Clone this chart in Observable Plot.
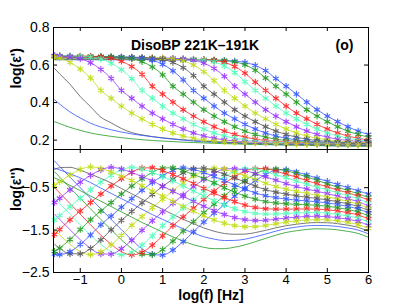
<!DOCTYPE html>
<html><head><meta charset="utf-8">
<script src="https://cdn.jsdelivr.net/npm/d3@7"></script>
<script src="https://cdn.jsdelivr.net/npm/@observablehq/plot@0.6"></script>
<style>
body{margin:0;background:#fff;}
#chart{position:relative;width:407px;height:306px;}
#chart svg{position:absolute;left:0;overflow:visible;background:transparent;}
</style></head><body><div id="chart"></div>
<script>
// log10 frequency grid (Hz)
const logf = [-1.625,-1.5,-1.25,-1,-0.75,-0.5,-0.25,0,0.25,0.5,0.75,1,1.25,1.5,1.75,2,2.25,2.5,2.75,3,3.25,3.5,3.75,4,4.25,4.5,4.75,5,5.25,5.5,5.75,6];
const temps = [221,219,217,215,213,211,209,207,205,203,201,199,197,195,193,191];
// first frequency shown with markers (null = line only)
const markFrom = [0.75,0.5,0.25,0,-0.5,-0.75,-1.25,-1.625,-1.625,-1.625,-1.625,-1.625,-1.625,null,null,null];

// log(eps')
const e1_221 = [0.628,0.628,0.628,0.628,0.628,0.628,0.628,0.628,0.628,0.628,0.628,0.627,0.627,0.627,0.626,0.626,0.626,0.624,0.621,0.614,0.598,0.570,0.528,0.487,0.445,0.402,0.362,0.328,0.298,0.271,0.248,0.230];
const e1_219 = [0.631,0.631,0.631,0.631,0.631,0.631,0.631,0.631,0.631,0.631,0.630,0.630,0.630,0.629,0.629,0.629,0.627,0.624,0.617,0.601,0.573,0.531,0.487,0.445,0.402,0.362,0.328,0.298,0.271,0.248,0.230,0.216];
const e1_217 = [0.634,0.634,0.634,0.634,0.634,0.634,0.634,0.634,0.634,0.633,0.633,0.633,0.632,0.632,0.631,0.629,0.624,0.614,0.592,0.557,0.509,0.465,0.423,0.381,0.344,0.313,0.284,0.259,0.238,0.222,0.210,0.201];
const e1_215 = [0.637,0.637,0.637,0.637,0.637,0.637,0.637,0.637,0.636,0.636,0.636,0.635,0.635,0.634,0.632,0.627,0.617,0.595,0.560,0.512,0.465,0.423,0.381,0.344,0.313,0.284,0.259,0.238,0.222,0.210,0.201,0.195];
const e1_213 = [0.640,0.640,0.640,0.640,0.640,0.640,0.639,0.639,0.639,0.638,0.638,0.638,0.636,0.633,0.626,0.610,0.582,0.540,0.487,0.445,0.402,0.362,0.328,0.298,0.271,0.248,0.230,0.216,0.205,0.198,0.193,0.189];
const e1_211 = [0.642,0.642,0.642,0.642,0.642,0.641,0.641,0.641,0.640,0.640,0.639,0.637,0.632,0.622,0.600,0.565,0.517,0.465,0.423,0.381,0.344,0.313,0.284,0.259,0.238,0.222,0.210,0.201,0.195,0.191,0.188,0.185];
const e1_209 = [0.644,0.644,0.644,0.643,0.643,0.643,0.642,0.642,0.642,0.640,0.637,0.630,0.614,0.586,0.544,0.487,0.445,0.402,0.362,0.328,0.298,0.271,0.248,0.230,0.216,0.205,0.198,0.193,0.189,0.186,0.184,0.182];
const e1_207 = [0.646,0.646,0.645,0.645,0.645,0.644,0.644,0.643,0.641,0.636,0.626,0.604,0.569,0.521,0.465,0.423,0.381,0.344,0.313,0.284,0.259,0.238,0.222,0.210,0.201,0.195,0.191,0.188,0.185,0.183,0.182,0.181];
const e1_205 = [0.647,0.647,0.647,0.646,0.646,0.646,0.644,0.641,0.634,0.618,0.590,0.548,0.487,0.445,0.402,0.362,0.328,0.298,0.271,0.248,0.230,0.216,0.205,0.198,0.193,0.189,0.186,0.184,0.182,0.181,0.180,0.179];
const e1_203 = [0.649,0.648,0.648,0.648,0.646,0.643,0.636,0.620,0.592,0.550,0.487,0.445,0.402,0.362,0.328,0.298,0.271,0.248,0.230,0.216,0.205,0.198,0.193,0.189,0.186,0.184,0.182,0.181,0.180,0.179,0.178,0.177];
const e1_201 = [0.650,0.650,0.649,0.647,0.642,0.632,0.610,0.575,0.527,0.465,0.423,0.381,0.344,0.313,0.284,0.259,0.238,0.222,0.210,0.201,0.195,0.191,0.188,0.185,0.183,0.182,0.181,0.180,0.178,0.177,0.176,0.175];
const e1_199 = [0.650,0.649,0.644,0.634,0.612,0.577,0.529,0.465,0.423,0.381,0.344,0.313,0.284,0.259,0.238,0.222,0.210,0.201,0.195,0.191,0.188,0.185,0.183,0.182,0.181,0.180,0.178,0.177,0.176,0.175,0.175,0.174];
const e1_197 = [0.642,0.636,0.614,0.579,0.531,0.465,0.423,0.381,0.344,0.313,0.284,0.259,0.238,0.222,0.210,0.201,0.195,0.191,0.188,0.185,0.183,0.182,0.181,0.180,0.178,0.177,0.176,0.175,0.175,0.174,0.173,0.173];
const e1_195 = [0.582,0.553,0.498,0.432,0.378,0.322,0.292,0.262,0.240,0.228,0.219,0.212,0.207,0.202,0.198,0.194,0.191,0.188,0.186,0.184,0.182,0.180,0.179,0.178,0.177,0.176,0.175,0.174,0.173,0.173,0.172,0.171];
const e1_193 = [0.415,0.392,0.350,0.318,0.290,0.270,0.255,0.243,0.233,0.225,0.218,0.211,0.205,0.200,0.195,0.191,0.188,0.185,0.183,0.181,0.179,0.177,0.176,0.175,0.174,0.173,0.172,0.171,0.170,0.169,0.169,0.168];
const e1_191 = [0.298,0.288,0.268,0.252,0.238,0.228,0.220,0.213,0.207,0.202,0.198,0.195,0.192,0.189,0.187,0.185,0.183,0.181,0.180,0.178,0.177,0.176,0.175,0.174,0.173,0.172,0.171,0.170,0.169,0.168,0.168,0.167];

// log(eps'')
const e2_221 = [0.13,0.0,-0.25,-0.5,-0.75,-1.0,-1.25,-1.49,-1.73,-1.94,-2.07,-2.09,-1.97,-1.77,-1.54,-1.31,-1.10,-0.90,-0.70,-0.51,-0.34,-0.19,-0.09,-0.075,-0.13,-0.20,-0.275,-0.35,-0.425,-0.50,-0.575,-0.65];
const e2_219 = [-0.125,-0.25,-0.5,-0.75,-1.0,-1.25,-1.49,-1.73,-1.934,-2.07,-2.08,-1.96,-1.76,-1.525,-1.30,-1.09,-0.89,-0.69,-0.50,-0.33,-0.18,-0.08,-0.06,-0.10,-0.17,-0.245,-0.325,-0.41,-0.49,-0.565,-0.645,-0.73];
const e2_217 = [-0.5,-0.625,-0.875,-1.125,-1.375,-1.62,-1.836,-2.01,-2.086,-2.025,-1.856,-1.636,-1.395,-1.19,-0.98,-0.78,-0.58,-0.40,-0.24,-0.11,-0.05,-0.048,-0.109,-0.182,-0.252,-0.333,-0.409,-0.482,-0.556,-0.62,-0.70,-0.79];
const e2_215 = [-0.75,-0.875,-1.125,-1.375,-1.62,-1.836,-2.01,-2.086,-2.025,-1.856,-1.636,-1.395,-1.19,-0.98,-0.78,-0.58,-0.40,-0.24,-0.11,-0.05,-0.057,-0.121,-0.196,-0.264,-0.347,-0.419,-0.487,-0.551,-0.618,-0.689,-0.765,-0.866];
const e2_213 = [-1.125,-1.25,-1.49,-1.727,-1.931,-2.062,-2.066,-1.94,-1.74,-1.505,-1.28,-1.07,-0.87,-0.67,-0.48,-0.31,-0.16,-0.06,-0.05,-0.093,-0.169,-0.246,-0.323,-0.405,-0.474,-0.533,-0.585,-0.641,-0.699,-0.762,-0.831,-0.931];
const e2_211 = [-1.495,-1.61,-1.835,-2.009,-2.08,-2.017,-1.847,-1.626,-1.385,-1.18,-0.97,-0.77,-0.57,-0.39,-0.23,-0.10,-0.04,-0.066,-0.138,-0.225,-0.305,-0.396,-0.473,-0.536,-0.59,-0.634,-0.676,-0.718,-0.767,-0.823,-0.889,-0.985];
const e2_209 = [-1.834,-1.93,-2.058,-2.06,-1.933,-1.731,-1.495,-1.27,-1.06,-0.86,-0.66,-0.47,-0.30,-0.15,-0.05,-0.04,-0.10,-0.183,-0.273,-0.365,-0.465,-0.545,-0.607,-0.652,-0.694,-0.724,-0.755,-0.787,-0.831,-0.882,-0.943,-1.038];
const e2_207 = [-2.058,-2.076,-2.01,-1.838,-1.616,-1.375,-1.17,-0.96,-0.76,-0.56,-0.38,-0.22,-0.09,-0.03,-0.07,-0.142,-0.237,-0.329,-0.437,-0.538,-0.623,-0.69,-0.736,-0.768,-0.794,-0.812,-0.833,-0.858,-0.895,-0.943,-1.001,-1.095];
const e2_205 = [-2.002,-1.924,-1.721,-1.487,-1.257,-1.05,-0.85,-0.65,-0.46,-0.29,-0.14,-0.04,-0.03,-0.10,-0.19,-0.28,-0.384,-0.502,-0.606,-0.699,-0.77,-0.829,-0.861,-0.88,-0.893,-0.903,-0.917,-0.937,-0.971,-1.016,-1.073,-1.165];
const e2_203 = [-1.606,-1.487,-1.258,-1.05,-0.85,-0.65,-0.46,-0.29,-0.14,-0.04,-0.03,-0.10,-0.19,-0.29,-0.40,-0.516,-0.63,-0.737,-0.827,-0.911,-0.967,-0.998,-1.006,-1.006,-1.005,-1.001,-1.006,-1.02,-1.05,-1.091,-1.145,-1.237];
const e2_201 = [-1.258,-1.158,-0.95,-0.75,-0.55,-0.37,-0.21,-0.08,-0.02,-0.06,-0.14,-0.24,-0.34,-0.459,-0.579,-0.696,-0.808,-0.909,-0.997,-1.065,-1.107,-1.125,-1.12,-1.107,-1.098,-1.088,-1.089,-1.10,-1.127,-1.167,-1.221,-1.312];
const e2_199 = [-0.85,-0.75,-0.55,-0.37,-0.21,-0.08,-0.02,-0.06,-0.14,-0.24,-0.34,-0.463,-0.585,-0.705,-0.824,-0.937,-1.042,-1.133,-1.206,-1.254,-1.274,-1.268,-1.243,-1.215,-1.196,-1.178,-1.174,-1.182,-1.206,-1.245,-1.297,-1.388];
const e2_197 = [-0.45,-0.36,-0.20,-0.07,-0.01,-0.05,-0.13,-0.23,-0.33,-0.455,-0.58,-0.70,-0.822,-0.941,-1.056,-1.164,-1.26,-1.339,-1.393,-1.421,-1.418,-1.391,-1.351,-1.31,-1.284,-1.261,-1.254,-1.259,-1.282,-1.32,-1.371,-1.462];
const e2_195 = [-0.07,-0.03,-0.02,-0.09,-0.18,-0.28,-0.39,-0.52,-0.645,-0.77,-0.89,-1.012,-1.131,-1.246,-1.349,-1.449,-1.527,-1.58,-1.599,-1.595,-1.559,-1.507,-1.447,-1.396,-1.362,-1.334,-1.323,-1.326,-1.348,-1.385,-1.437,-1.53];
const e2_193 = [-0.04,-0.08,-0.17,-0.27,-0.38,-0.51,-0.635,-0.76,-0.88,-1.01,-1.135,-1.247,-1.359,-1.474,-1.572,-1.656,-1.713,-1.747,-1.744,-1.714,-1.659,-1.594,-1.525,-1.467,-1.429,-1.40,-1.39,-1.395,-1.415,-1.45,-1.50,-1.59];
const e2_191 = [-0.27,-0.32,-0.445,-0.57,-0.695,-0.82,-0.945,-1.07,-1.195,-1.32,-1.433,-1.55,-1.66,-1.76,-1.845,-1.906,-1.939,-1.937,-1.903,-1.849,-1.774,-1.696,-1.62,-1.556,-1.516,-1.485,-1.47,-1.475,-1.495,-1.53,-1.58,-1.67];

const xTicks = [-1,0,1,2,3,4,5,6];
const e1Ticks = [0.2,0.4,0.6,0.8];
const e2Ticks = [-2.5,-1.5,-0.5];
const titleText = "DisoBP 221K\u2013191K";
const tagText = "(o)";
const xLabel = "log(f) [Hz]";
const y1Label = "log(\u03b5')";
const y2Label = "log(\u03b5'')";
const seriesColors = ["#3355ff","#1f9a1f","#ff2020","#4dffb8","#9933ff","#bfdc10","#555555",
                      "#3355ff","#1f9a1f","#ff2020","#4dffb8","#9933ff","#bfdc10","#555555",
                      "#3355ff","#1f9a1f"];

const eps1 = [e1_221,e1_219,e1_217,e1_215,e1_213,e1_211,e1_209,e1_207,e1_205,e1_203,e1_201,e1_199,e1_197,e1_195,e1_193,e1_191];
const eps2 = [e2_221,e2_219,e2_217,e2_215,e2_213,e2_211,e2_209,e2_207,e2_205,e2_203,e2_201,e2_199,e2_197,e2_195,e2_193,e2_191];

const rows = [];
temps.forEach((T, j) => {
  logf.forEach((f, i) => {
    rows.push({T, f, e1: eps1[j][i], e2: eps2[j][i], m: markFrom[j] !== null && f >= markFrom[j] - 1e-9});
  });
});
const marked = rows.filter(d => d.m);

const fmt = d => (d < 0 ? "\u2212" : "") + String(Math.abs(d));

const W = 407, ML = 53, MR = 39;
const FW = W - ML - MR;
const font = "'Liberation Sans', Arial, Helvetica, sans-serif";
const common = {
  width: W, marginLeft: ML, marginRight: MR,
  x: {domain: [-1.65, 6]},
  color: {type: "ordinal", domain: temps, range: seriesColors},
  style: {fontFamily: font, fontSize: "14px", color: "black", background: "transparent", overflow: "visible"}
};

function panel(key, h, mt, mb, yDomain, yTicks, yLab, extra) {
  const FH = h - mt - mb;
  return Plot.plot({
    ...common, height: h, marginTop: mt, marginBottom: mb,
    y: {domain: yDomain},
    marks: [
      Plot.line(rows, {x: "f", y: key, z: "T", stroke: "T", strokeWidth: 0.8, curve: "monotone-x"}),
      Plot.dot(marked, {x: "f", y: key, stroke: "T", symbol: "asterisk", r: 3.1, strokeWidth: 1.2, strokeOpacity: 0.85}),
      Plot.tickX(xTicks, {x: d => d, insetTop: FH - 4, stroke: "black"}),
      Plot.tickX(xTicks, {x: d => d, insetBottom: FH - 4, stroke: "black"}),
      Plot.tickY(yTicks, {y: d => d, insetRight: FW - 4, stroke: "black"}),
      Plot.tickY(yTicks, {y: d => d, insetLeft: FW - 4, stroke: "black"}),
      Plot.axisY(yTicks, {tickSize: 0, tickPadding: 4, label: null, fontSize: 14, tickFormat: fmt}),
      Plot.frame({stroke: "black"}),
      Plot.text([yLab], {text: d => d, frameAnchor: "left", dx: -37, rotate: -90, fontWeight: "bold", fontSize: 14}),
      ...extra
    ]
  });
}

const topSvg = panel("e1", 150, 27, 1, [0.15, 0.8], e1Ticks, y1Label, [
  Plot.axisX({ticks: [], tickSize: 0, label: null}),
  Plot.text([titleText], {text: d => d, frameAnchor: "top", dx: -16, dy: 12.5, fontWeight: "bold", fontSize: 14}),
  Plot.text([tagText], {text: d => d, frameAnchor: "top-right", dx: -24, dy: 12.5, textAnchor: "middle", fontWeight: "bold", fontSize: 14})
]);
const botSvg = panel("e2", 157, 0, 34, [-2.5, 0.4], e2Ticks, y2Label, [
  Plot.axisX(xTicks, {tickSize: 0, tickPadding: 2, label: null, fontSize: 13, tickFormat: fmt}),
  Plot.text([xLabel], {text: d => d, frameAnchor: "bottom", dy: 27, fontWeight: "bold", fontSize: 14})
]);
topSvg.style.top = "0px";
botSvg.style.top = "149px";
const chart = document.getElementById("chart");
chart.appendChild(topSvg);
chart.appendChild(botSvg);
</script>
</body></html>
